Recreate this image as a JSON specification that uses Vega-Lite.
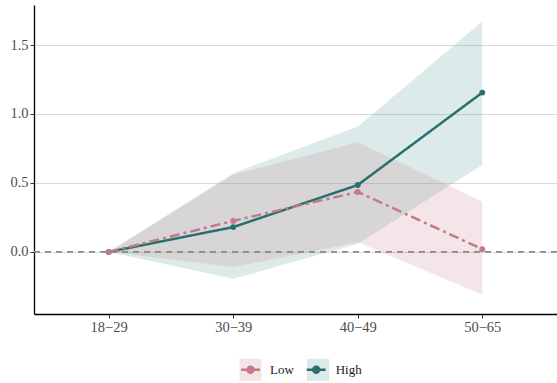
{
  "$schema": "https://vega.github.io/schema/vega-lite/v6.json",
  "width": 523,
  "height": 309,
  "autosize": {"type": "none"},
  "padding": {"left": 34, "top": 5, "right": 0, "bottom": 69},
  "background": "white",
  "config": {
    "view": {"stroke": null},
    "font": "Liberation Serif",
    "axis": {
      "domainColor": "black",
      "domainWidth": 1.3,
      "tickColor": "#333333",
      "tickSize": 4,
      "labelFont": "Liberation Serif",
      "labelFontSize": 14.5,
      "labelColor": "#4d4d4d",
      "title": null
    }
  },
  "data": {
    "values": [
      {"group": "High", "age": "18−29", "est": 0, "lo": 0, "hi": 0},
      {"group": "High", "age": "30−39", "est": 0.18, "lo": -0.195, "hi": 0.57},
      {"group": "High", "age": "40−49", "est": 0.485, "lo": 0.06, "hi": 0.91},
      {"group": "High", "age": "50−65", "est": 1.155, "lo": 0.63, "hi": 1.67},
      {"group": "Low", "age": "18−29", "est": 0, "lo": 0, "hi": 0},
      {"group": "Low", "age": "30−39", "est": 0.225, "lo": -0.11, "hi": 0.56},
      {"group": "Low", "age": "40−49", "est": 0.435, "lo": 0.07, "hi": 0.795},
      {"group": "Low", "age": "50−65", "est": 0.02, "lo": -0.31, "hi": 0.365}
    ]
  },
  "layer": [
    {
      "mark": {"type": "area", "opacity": 0.2},
      "encoding": {
        "x": {"field": "age", "type": "ordinal", "sort": ["18−29", "30−39", "40−49", "50−65"], "scale": {"type": "point", "padding": 0.6}, "axis": {"labelAngle": 0, "labelPadding": 2, "grid": false}},
        "y": {"field": "lo", "type": "quantitative", "scale": {"domain": [-0.45, 1.79], "nice": false, "zero": false}, "axis": {"values": [0, 0.5, 1, 1.5], "format": ".1f", "grid": true, "gridColor": "#dadada", "gridWidth": 1, "labelPadding": 2}},
        "y2": {"field": "hi"},
        "fill": {
          "field": "group", "type": "nominal",
          "scale": {"domain": ["Low", "High"], "range": ["#c8828c", "#559696"]},
          "legend": {"orient": "none", "legendX": 204, "legendY": 352, "direction": "horizontal", "padding": 0, "title": null, "symbolType": "square", "symbolSize": 484, "symbolOpacity": 0.2, "symbolStrokeWidth": 2.5, "symbolStrokeColor": "transparent", "labelFont": "Liberation Serif", "labelFontSize": 13, "labelExpr": "''", "labelOffset": 7, "columnPadding": 31.5, "zindex": 0}
        }
      }
    },
    {
      "data": {"values": [{"ref": 0}]},
      "mark": {"type": "rule", "color": "#8a8a8a", "strokeWidth": 1.6, "strokeDash": [6, 5]},
      "encoding": {"y": {"field": "ref", "type": "quantitative"}}
    },
    {
      "mark": {"type": "line", "strokeWidth": 2.5},
      "encoding": {
        "x": {"field": "age", "type": "ordinal", "sort": ["18−29", "30−39", "40−49", "50−65"]},
        "y": {"field": "est", "type": "quantitative"},
        "stroke": {
          "field": "group", "type": "nominal", "sort": ["Low", "High"],
          "scale": {"range": ["#c47a86", "#287070"]},
          "legend": {"orient": "none", "legendX": 204, "legendY": 352, "direction": "horizontal", "padding": 0, "title": null, "symbolType": "M-0.86,0L0.86,0M-0.27,0A0.27,0.27 0 1 0 0.27,0A0.27,0.27 0 1 0 -0.27,0", "symbolSize": 484, "symbolStrokeWidth": 2.5, "labelFont": "Liberation Serif", "labelFontSize": 13, "labelColor": "#1a1a1a", "labelOffset": 7, "columnPadding": 7.7, "zindex": 1,
            "encode": {"symbols": {"update": {"fill": {"signal": "datum.value === 'Low' ? '#c47a86' : '#287070'"}}}}}
        },
        "strokeDash": {
          "field": "group", "type": "nominal",
          "scale": {"domain": ["Low", "High"], "range": [[10, 4, 3, 4], [1, 0]]},
          "legend": null
        }
      }
    },
    {
      "mark": {"type": "point", "filled": true, "size": 34, "opacity": 1},
      "encoding": {
        "x": {"field": "age", "type": "ordinal", "sort": ["18−29", "30−39", "40−49", "50−65"]},
        "y": {"field": "est", "type": "quantitative"},
        "color": {"field": "group", "type": "nominal", "sort": ["Low", "High"], "scale": {"range": ["#c47a86", "#287070"]}, "legend": null}
      }
    }
  ]
}
